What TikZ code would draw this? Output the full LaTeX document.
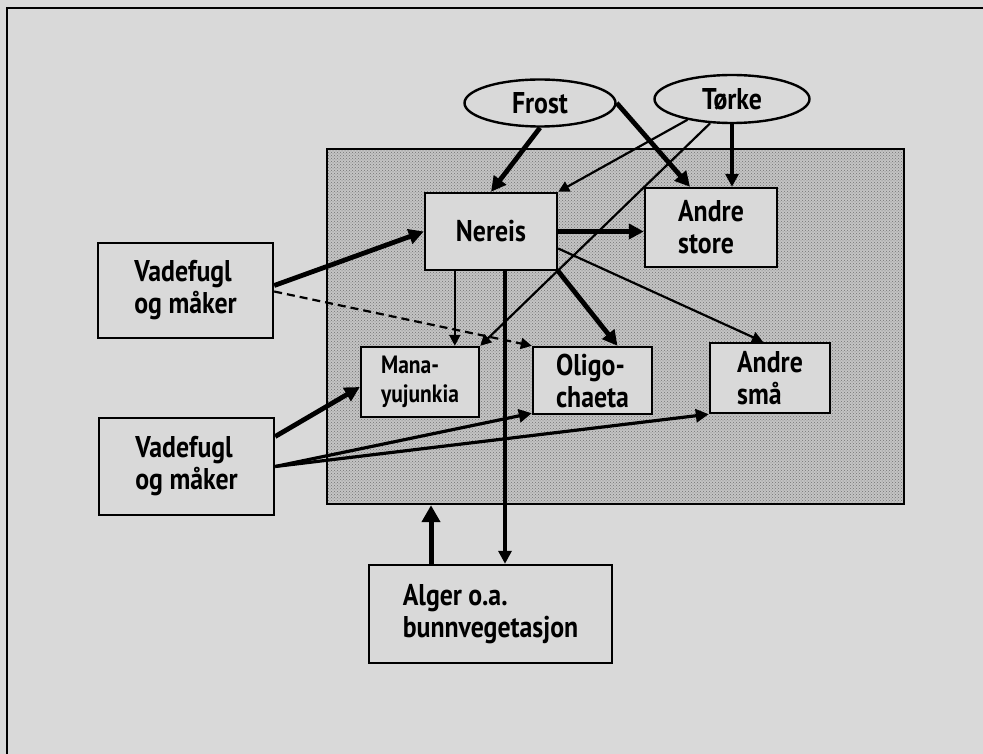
\documentclass[tikz,border=0pt]{standalone}
\usepackage{fontspec}
\setmainfont{PT Sans}[FakeStretch=0.86]
\usetikzlibrary{arrows.meta,shapes.geometric,patterns}

\definecolor{paper}{HTML}{D9D9D9}
\definecolor{screen}{HTML}{C4C4C4}

\begin{document}
\begin{tikzpicture}[x=1pt, y=-1pt,
    box/.style={draw, fill=paper, line width=2.4pt, inner sep=0pt, align=left,
                font=\fontsize{30}{32}\selectfont\bfseries},
    oval/.style={draw, fill=paper, ellipse, line width=2.4pt, inner sep=0pt,
                 font=\fontsize{30}{32}\selectfont\bfseries},
    zone/.style={draw, preaction={fill=screen}, pattern=crosshatch dots,
                 pattern color=black!55, line width=2.4pt, inner sep=0pt},
    thick arrow/.style={line width=4.8pt, -{Triangle[length=15pt,width=15pt]}},
    mid arrow/.style={line width=3.2pt, -{Triangle[length=13pt,width=13pt]}},
    thin arrow/.style={line width=2.2pt, -{Triangle[length=11pt,width=11pt]}}]

    \useasboundingbox (0, 0) rectangle (983, 754);
    \fill[paper] (0, 0) rectangle (983, 754);
    \draw[line width=2pt] (7, 754) -- (7, 8) -- (983, 8);

    \node[zone] (zone) at (615.5, 326.5) [minimum width=577pt, minimum height=355pt] {};

    \node[oval, minimum width=151pt, minimum height=47pt] (frost) at (540, 103) {Frost};
    \node[oval, minimum width=155pt, minimum height=48pt] (torke) at (732, 99) {Tørke};

    \node[box, minimum width=132pt, minimum height=77pt] (nereis) at (491, 231.5) {Nereis};
    \node[box, minimum width=132pt, minimum height=79pt] (store) at (711, 227.5) {Andre\\store};
    \node[box, minimum width=175pt, minimum height=95pt] (vade1) at (185.5, 290.5) {Vadefugl\\og måker};
    \node[box, minimum width=175pt, minimum height=97pt] (vade2) at (186.5, 466.5) {Vadefugl\\og måker};
    \node[box, minimum width=118pt, minimum height=70pt,
          font=\fontsize{25}{29}\selectfont\bfseries] (mana) at (420, 382) {Mana-\\yujunkia};
    \node[box, minimum width=119pt, minimum height=67pt] (oligo) at (592.5, 380.5) {Oligo-\\chaeta};
    \node[box, minimum width=120pt, minimum height=70pt] (smaa) at (770, 378) {Andre\\små};
    \node[box, minimum width=243pt, minimum height=98pt] (alger) at (490.5, 614) {Alger o.a.\\bunnvegetasjon};

    \draw[thick arrow] (frost.south) -- (nereis.north);
    \draw[thick arrow] (frost.east) -- ([xshift=-21pt]store.north);
    \draw[thin arrow] (torke.205) -- (nereis.north east);
    \draw[thin arrow] (torke.228) -- (mana.north east);
    \draw[mid arrow] (torke.south) -- (torke.south |- store.north);

    \draw[thick arrow] (nereis.east) -- (nereis.east -| store.west);
    \draw[thin arrow] ([yshift=-17pt]nereis.east) -- ([xshift=-7pt]smaa.north);
    \draw[thick arrow] (nereis.south east) -- ([xshift=25pt]oligo.north);
    \draw[thin arrow] ([xshift=31pt]nereis.south west) -- ([xshift=31pt]nereis.south west |- mana.north);
    \draw[mid arrow] ([xshift=14pt]nereis.south) -- ([xshift=14pt]nereis.south |- alger.north);
    \draw[line width=5pt, -{Triangle[length=17pt,width=18pt]}]
      ([xshift=-59.5pt]alger.north) -- ([xshift=-59.5pt]alger.north |- zone.south);

    \draw[thick arrow] ([yshift=5pt]vade1.east) -- (nereis.west);
    \draw[thin arrow, dash pattern=on 8pt off 5pt] ([yshift=-1pt]vade1.east) -- (oligo.north west);
    \draw[thick arrow] ([yshift=30pt]vade2.east) -- ([yshift=-5pt]mana.west);
    \draw[mid arrow] (vade2.east) -- ([yshift=2pt]oligo.south west);
    \draw[mid arrow] (vade2.east) -- (smaa.south west);
\end{tikzpicture}
\end{document}
